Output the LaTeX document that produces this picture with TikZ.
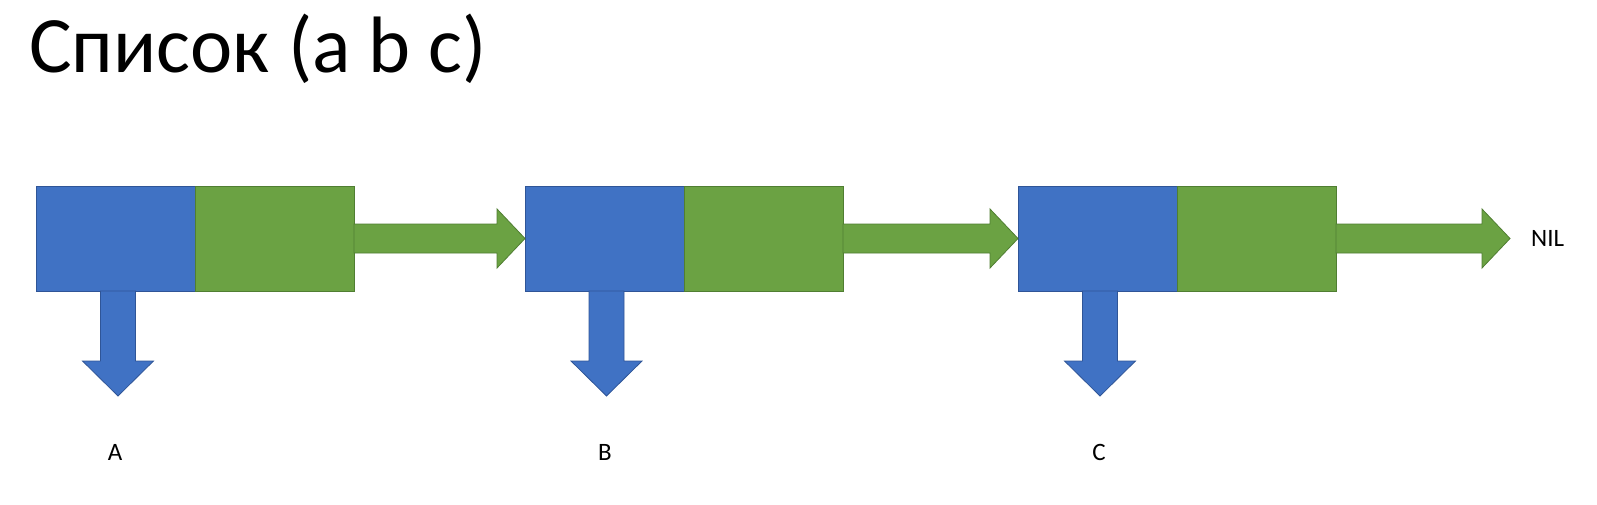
\documentclass[tikz,border=0pt]{standalone}
\usepackage{fontspec}
\setmainfont{Carlito}
\usetikzlibrary{calc}
\definecolor{cblue}{HTML}{4072C4}
\definecolor{cblueline}{HTML}{2F5597}
\definecolor{cgreen}{HTML}{6BA243}
\definecolor{cgreenline}{HTML}{507E32}
\tikzset{
  bluecell/.style={draw=cblueline, fill=cblue, line width=0.8pt, minimum width=159pt, minimum height=105pt, inner sep=0pt, outer sep=0pt},
  greencell/.style={draw=cgreenline, fill=cgreen, line width=0.8pt, minimum width=159pt, minimum height=105pt, inner sep=0pt, outer sep=0pt},
  garrow/.style={draw=cgreenline, fill=cgreen, line width=0.8pt, line join=miter},
  barrow/.style={draw=cblueline, fill=cblue, line width=0.8pt, line join=miter},
  lbl/.style={font=\fontsize{25}{30}\selectfont, inner sep=0pt}
}
\newcommand{\rarrow}[2]{%
  \path[garrow] let \p1=(#1), \p2=(#2) in
    (\x1,\y2+14.5pt) -- (\x2-28pt,\y2+14.5pt) -- (\x2-28pt,\y2+29.5pt) -- (\x2,\y2)
    -- (\x2-28pt,\y2-29.5pt) -- (\x2-28pt,\y2-14.5pt) -- (\x1,\y2-14.5pt) -- cycle;}
\newcommand{\darrow}[2]{%
  \path[barrow] let \p1=(#1), \p2=(#2) in
    (\x2-17.5pt,\y1) -- (\x2-17.5pt,\y2+35pt) -- (\x2-35.5pt,\y2+35pt) -- (\x2,\y2)
    -- (\x2+35.5pt,\y2+35pt) -- (\x2+17.5pt,\y2+35pt) -- (\x2+17.5pt,\y1) -- cycle;}
\begin{document}
\begin{tikzpicture}[x=1pt,y=-1pt]
\fill[white] (0,0) rectangle (1597,505);
\useasboundingbox (0,0) rectangle (1597,505);

\node[anchor=base west, inner sep=0pt, font=\fontsize{80}{96}\selectfont] (title) at (29,73) {Список (a b c)};

\node[bluecell, anchor=north west] (b1) at (36,186) {};
\node[greencell, anchor=west] (g1) at (b1.east) {};
\node[bluecell, anchor=north west] (b2) at (525,186) {};
\node[greencell, anchor=west] (g2) at (b2.east) {};
\node[bluecell, anchor=north west] (b3) at (1018,186) {};
\node[greencell, anchor=west] (g3) at (b3.east) {};

\coordinate (e3) at ([xshift=174pt]g3.east);
\node[lbl, anchor=west] (nil) at (1531,238) {NIL};

\rarrow{g1.east}{b2.west}
\rarrow{g2.east}{b3.west}
\rarrow{g3.east}{e3}

\coordinate (d1) at ([xshift=2.5pt,yshift=-105pt]b1.south);
\coordinate (d2) at ([xshift=2pt,yshift=-105pt]b2.south);
\coordinate (d3) at ([xshift=2.5pt,yshift=-105pt]b3.south);
\darrow{b1.south}{d1}
\darrow{b2.south}{d2}
\darrow{b3.south}{d3}

\node[lbl] (la) at (115,452) {A};
\node[lbl] (lb) at (605,452) {B};
\node[lbl] (lc) at (1099,452) {C};
\end{tikzpicture}
\end{document}
